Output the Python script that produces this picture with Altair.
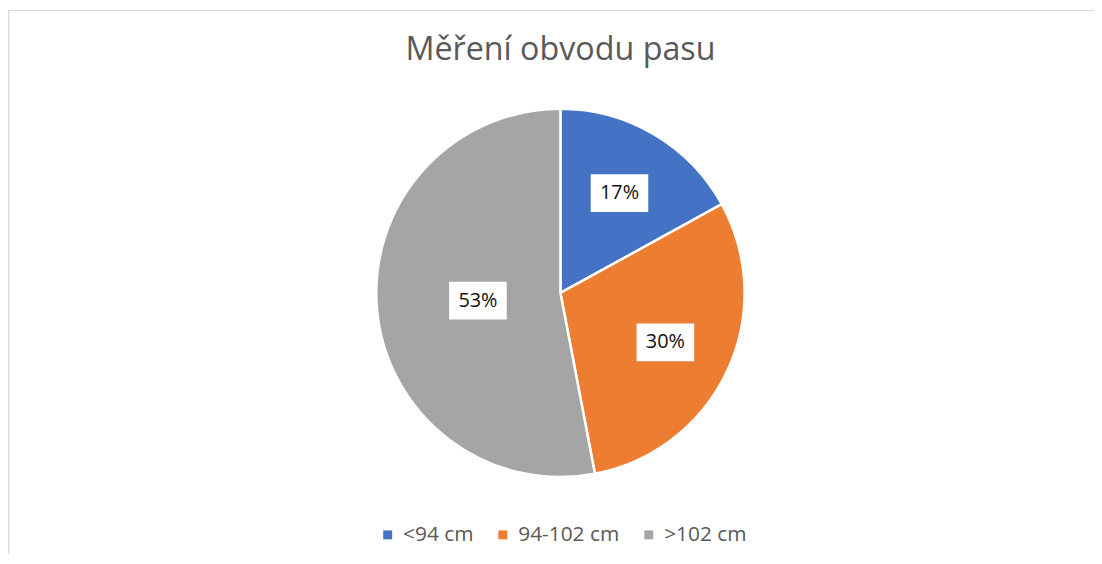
import altair as alt
import pandas as pd

categories = ["<94 cm", "94-102 cm", ">102 cm"]
shares = [17, 30, 53]
labels = ["17%", "30%", "53%"]
colors = ["#4472C4", "#ED7D31", "#A5A5A5"]

df = pd.DataFrame({"cat": categories, "share": shares, "label": labels, "order": [0, 1, 2]})

CX, CY, R = 556.5, 285, 185.5
FONT = "Open Sans"

base = alt.Chart(df)

pie = base.mark_arc(outerRadius=R, stroke="white", strokeWidth=2.5).encode(
    theta=alt.Theta("share:Q", stack=True),
    order=alt.Order("order:Q"),
    color=alt.Color(
        "cat:N",
        scale=alt.Scale(domain=categories, range=colors),
        sort=categories,
        legend=alt.Legend(
            title=None,
            orient="none",
            direction="horizontal",
            legendX=372,
            legendY=518,
            symbolType="square",
            symbolSize=81,
            symbolStrokeWidth=0,
            labelFont=FONT,
            labelFontSize=21,
            labelColor="#595959",
            labelOffset=5,
            columnPadding=19,
        ),
    ),
    x=alt.value(CX),
    y=alt.value(CY),
)

pos = base.transform_window(
    cum="sum(share)", sort=[alt.SortField("order")]
).transform_joinaggregate(total="sum(share)").transform_calculate(
    mid="(datum.cum - datum.share/2) / datum.total * 2 * PI",
    rr=f"datum.share / datum.total > 0.5 ? {R}*0.45 : {R}*0.63",
).transform_calculate(
    lx=f"{CX} + datum.rr * sin(datum.mid)",
    ly=f"{CY} - datum.rr * cos(datum.mid)",
)

box = pos.mark_point(
    shape="M-1,-0.655L1,-0.655L1,0.655L-1,0.655Z",
    size=3364,
    filled=True,
    fill="white",
    opacity=1,
    strokeWidth=0,
).encode(x=alt.X("lx:Q", scale=None), y=alt.Y("ly:Q", scale=None))

txt = pos.mark_text(
    font=FONT, fontSize=20, color="#111111", baseline="middle", align="center"
).encode(x=alt.X("lx:Q", scale=None), y=alt.Y("ly:Q", scale=None), text="label:N")

title = alt.Chart(pd.DataFrame({"t": ["Měření obvodu pasu"]})).mark_text(
    font=FONT, fontSize=32.5, color="#595959", baseline="alphabetic", align="center"
).encode(x=alt.value(CX), y=alt.value(50), text="t:N")

border_top = alt.Chart(pd.DataFrame({"a": [0]})).mark_rule(color="#D9D9D9", strokeWidth=1).encode(
    x=alt.value(0), x2=alt.value(1094), y=alt.value(0.5)
)
border_left = alt.Chart(pd.DataFrame({"a": [0]})).mark_rule(color="#D9D9D9", strokeWidth=1.5).encode(
    x=alt.value(0.5), y=alt.value(0), y2=alt.value(548)
)

chart = alt.layer(border_top, border_left, pie, box, txt, title).properties(
    width=1094,
    height=548,
    autosize=alt.AutoSizeParams(type="none"),
    padding=0,
).configure_view(stroke=None)

chart.save("out.html", embed_options={"renderer": "svg", "actions": False})
